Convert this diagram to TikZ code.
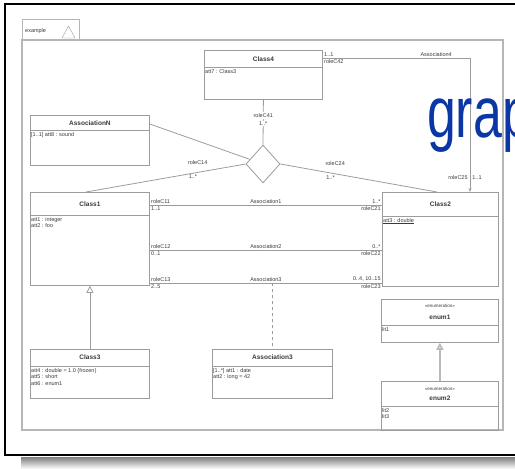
\documentclass[tikz,border=0pt]{standalone}
\usepackage{fontspec}
\setmainfont{Liberation Sans}
\usetikzlibrary{arrows.meta,positioning,shapes.geometric}
\definecolor{ink}{HTML}{3A3A3A}
\definecolor{edge}{HTML}{9C9C9C}
\definecolor{pkg}{HTML}{B6B6B6}
\definecolor{shade}{HTML}{8E8E8E}
\definecolor{wmblue}{HTML}{0B36A6}

\begin{document}
\begin{tikzpicture}[x=1pt,y=-1pt,
  font=\fontsize{5.5}{6.5}\selectfont, text=ink,
  cls/.style={draw=edge,line width=0.8pt,anchor=north west,inner sep=0pt},
  cname/.style={font=\fontsize{6.5}{7}\selectfont\bfseries,inner sep=0pt},
  stereo/.style={font=\fontsize{4.5}{5}\selectfont,inner sep=0pt},
  attr/.style={anchor=north west,align=left,inner sep=1pt},
  lbl/.style={inner sep=1pt},
  assoc/.style={draw=edge,line width=0.8pt},
  gen/.style={draw=edge,line width=0.8pt,-{Triangle[open,length=7pt,width=7pt]}}]

\useasboundingbox (0,0) rectangle (515,469);

% outer frame and its shadow
\fill[shade] (21,457) rectangle (515,469);
\draw[line width=2pt] (515,4) -- (5,4) -- (5,455) -- (515,455);

% package
\draw[draw=pkg,line width=1.2pt] (22,40) rectangle (503,430);
\node[draw=pkg,line width=1.2pt,anchor=south west,minimum width=57pt,minimum height=20pt,inner sep=0pt] (tab) at (22,40) {};
\node[anchor=west,inner sep=0pt] (pkgname) at (25,31) {example};
\draw[edge] (62,38) -- (68.5,26) -- (75,38) -- cycle;

% classes
\node[cls,minimum width=118pt,minimum height=49pt] (c4) at (204,50) {};
\node[cls,minimum width=119pt,minimum height=50pt] (an) at (30,115) {};
\node[cls,minimum width=119pt,minimum height=93pt] (c1) at (30,192) {};
\node[cls,minimum width=116pt,minimum height=94pt] (c2) at (382,192) {};
\node[cls,minimum width=119pt,minimum height=49pt] (c3) at (30,349) {};
\node[cls,minimum width=120pt,minimum height=49pt] (a3) at (212,349) {};
\node[cls,minimum width=117pt,minimum height=43pt] (e1) at (381,299) {};
\node[cls,minimum width=117pt,minimum height=49pt] (e2) at (381,381) {};
\node[diamond,draw=edge,line width=0.8pt,fill=white,minimum width=34pt,minimum height=38pt,inner sep=0pt] (dia) at (263,164) {};

\draw[edge,line width=0.8pt] ([yshift=-17pt]c4.north west) -- ([yshift=-17pt]c4.north east);
\draw[edge,line width=0.8pt] ([yshift=-15pt]an.north west) -- ([yshift=-15pt]an.north east);
\draw[edge,line width=0.8pt] ([yshift=-23pt]c1.north west) -- ([yshift=-23pt]c1.north east);
\draw[edge,line width=0.8pt] ([yshift=-24pt]c2.north west) -- ([yshift=-24pt]c2.north east);
\draw[edge,line width=0.8pt] ([yshift=-17pt]c3.north west) -- ([yshift=-17pt]c3.north east);
\draw[edge,line width=0.8pt] ([yshift=-17pt]a3.north west) -- ([yshift=-17pt]a3.north east);
\draw[edge,line width=0.8pt] ([yshift=-26pt]e1.north west) -- ([yshift=-26pt]e1.north east);
\draw[edge,line width=0.8pt] ([yshift=-25pt]e2.north west) -- ([yshift=-25pt]e2.north east);

\node[cname] (c4name) at ([yshift=-9pt]c4.north) {Class4};
\node[attr] (c4att) at ([yshift=-18pt]c4.north west) {att7 : Class3};
\node[cname] (anname) at ([yshift=-8pt]an.north) {AssociationN};
\node[attr] (anatt) at ([yshift=-16pt]an.north west) {[1..1] att8 : sound};
\node[cname] (c1name) at ([yshift=-12pt]c1.north) {Class1};
\node[attr] (c1att) at ([yshift=-24pt]c1.north west) {att1 : integer\\att2 : foo};
\node[cname] (c2name) at ([yshift=-12pt]c2.north) {Class2};
\node[attr] (c2att) at ([yshift=-25pt]c2.north west) {\underline{att3 : double}};
\node[cname] (c3name) at ([yshift=-8.5pt]c3.north) {Class3};
\node[attr] (c3att) at ([yshift=-18pt]c3.north west) {att4 : double = 1.0 \{frozen\}\\att5 : short\\att6 : enum1};
\node[cname] (a3name) at ([yshift=-8.5pt]a3.north) {Association3};
\node[attr] (a3att) at ([yshift=-18pt]a3.north west) {[1..*] att1 : date\\att2 : long = 42};
\node[stereo] (e1st) at ([yshift=-7pt]e1.north) {«enumeration»};
\node[cname] (e1name) at ([yshift=-18pt]e1.north) {enum1};
\node[attr] (e1lit) at ([yshift=-27pt]e1.north west) {lit1};
\node[stereo] (e2st) at ([yshift=-8pt]e2.north) {«enumeration»};
\node[cname] (e2name) at ([yshift=-17pt]e2.north) {enum2};
\node[attr] (e2lit) at ([yshift=-26pt]e2.north west) {lit2\\lit3};

% n-ary association
\draw[assoc] (c4.south) -- (dia.north)
  node[lbl,fill=white,pos=0.35] {roleC41} node[lbl,fill=white,pos=0.53] {1..*};
\draw[assoc] ([yshift=-9pt]an.north east) -- (dia);
\draw[assoc] (dia.west) -- ([xshift=56pt]c1.north west)
  node[lbl,pos=0.3,above=6pt] {roleC14} node[lbl,pos=0.33,below=0pt] {1..*};
\draw[assoc] (dia.east) -- ([xshift=55pt]c2.north west)
  node[lbl,pos=0.35,above=7pt] {roleC24} node[lbl,pos=0.32,below=1pt] {1..*};

% binary associations
\draw[assoc,-{Stealth[length=4pt,width=3pt]}] ([yshift=-8pt]c4.north east) -| ([xshift=88pt]c2.north west)
  node[lbl,pos=0,anchor=south west] {1..1} node[lbl,pos=0,anchor=north west] {roleC42}
  node[lbl,pos=0.385,above] {Association4}
  node[lbl,pos=0.945,left=1pt] {roleC25} node[lbl,pos=0.945,right=1pt] {1..1};
\draw[assoc] ([yshift=-13pt]c1.north east) -- ([yshift=-13pt]c2.north west)
  node[lbl,pos=0,anchor=south west] {roleC11} node[lbl,pos=0,anchor=north west] {1..1}
  node[lbl,pos=0.5,above] {Association1}
  node[lbl,pos=1,anchor=south east] {1..*} node[lbl,pos=1,anchor=north east] {roleC21};
\draw[assoc] ([yshift=-58pt]c1.north east) -- ([yshift=-58pt]c2.north west)
  node[lbl,pos=0,anchor=south west] {roleC12} node[lbl,pos=0,anchor=north west] {0..1}
  node[lbl,pos=0.5,above] {Association2}
  node[lbl,pos=1,anchor=south east] {0..*} node[lbl,pos=1,anchor=north east] {roleC22};
\draw[assoc] ([yshift=-91pt]c1.north east) -- ([yshift=-91pt]c2.north west)
  coordinate[pos=0.528] (as3mid)
  node[lbl,pos=0,anchor=south west] {roleC13} node[lbl,pos=0,anchor=north west] {2..5}
  node[lbl,pos=0.5,above] {Association3}
  node[lbl,pos=1,anchor=south east] {0..4, 10..15} node[lbl,pos=1,anchor=north east] {roleC23};
\draw[assoc,dashed] (as3mid) -- (a3.north);

% generalizations
\draw[gen] (c3.north) -- (c1.south);
\draw[gen,draw=edge!70,line width=1.6pt] (e2.north) -- (e1.south);

% watermark
\begin{scope}
  \clip (0,0) rectangle (515,469);
  \node[text=wmblue,font=\fontsize{72}{72}\selectfont,xscale=0.72,anchor=base west,inner sep=0pt] (wm) at (427,137) {grap};
\end{scope}
\end{tikzpicture}
\end{document}
